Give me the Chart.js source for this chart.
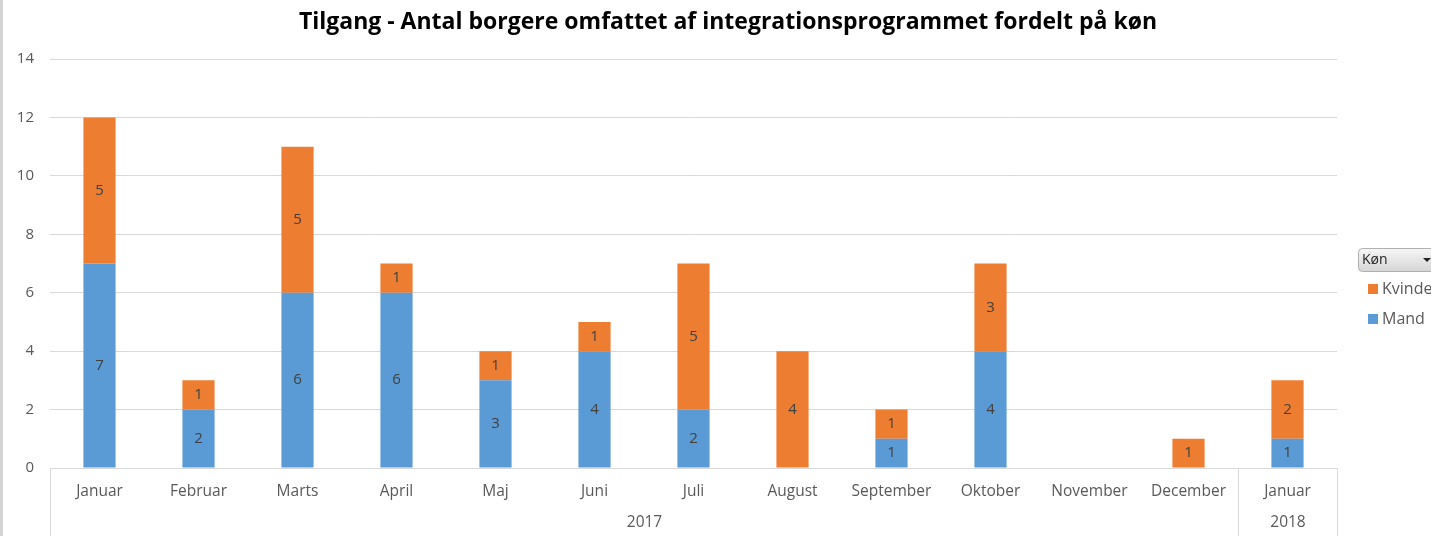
<!DOCTYPE html>
<html>
<head>
<meta charset="utf-8">
<script src="https://cdn.jsdelivr.net/npm/chart.js@4"></script>
<style>
  html, body { margin: 0; padding: 0; background: #fff; }
  #wrap { width: 1431px; height: 536px; position: relative; }
</style>
</head>
<body>
<div id="wrap"><canvas id="chart"></canvas></div>
<script>
const months = ['Januar', 'Februar', 'Marts', 'April', 'Maj', 'Juni', 'Juli', 'August', 'September', 'Oktober', 'November', 'December', 'Januar'];
const years = ['2017', '2018'];
const yearSpans = [12, 1];
const mand = [7, 2, 6, 6, 3, 4, 2, null, 1, 4, null, null, 1];
const kvinde = [5, 1, 5, 1, 1, 1, 5, 4, 1, 3, null, 1, 2];
const yTicks = [0, 2, 4, 6, 8, 10, 12, 14];
const title = 'Tilgang - Antal borgere omfattet af integrationsprogrammet fordelt på køn';

const FONT = "'Open Sans', sans-serif";
const GRID = '#d9d9d9';
const TEXT = '#595959';

// ─── custom drawing: title, value labels, year row, legend ───────────
const overlay = {
  id: 'overlay',
  afterDatasetsDraw(chart) {
    const ctx = chart.ctx;
    ctx.save();
    ctx.font = '15px ' + FONT;
    ctx.fillStyle = '#404040';
    ctx.textAlign = 'center';
    ctx.textBaseline = 'middle';
    chart.data.datasets.forEach((ds, i) => {
      chart.getDatasetMeta(i).data.forEach((bar, j) => {
        const v = ds.data[j];
        if (!v) return;
        ctx.fillText(String(v), bar.x, (bar.y + bar.base) / 2);
      });
    });
    ctx.restore();
  },
  afterDraw(chart) {
    const ctx = chart.ctx;
    const x = chart.scales.x;
    const area = chart.chartArea;
    const step = x.width / months.length;
    ctx.save();

    // title (centred on the whole picture, not the plot)
    ctx.fillStyle = '#000';
    ctx.font = 'bold 23px ' + FONT;
    ctx.textAlign = 'center';
    ctx.textBaseline = 'middle';
    ctx.fillText(title, 728, 22);

    // left frame line
    ctx.fillStyle = '#d4d4d4';
    ctx.fillRect(0, 0, 3, chart.height);

    // year row + separators
    ctx.strokeStyle = GRID;
    ctx.lineWidth = 1;
    ctx.font = '15.5px ' + FONT;
    ctx.fillStyle = TEXT;
    let start = 0;
    const edge = i => Math.round(x.getPixelForValue(i) - step / 2) + 0.5;
    ctx.beginPath();
    ctx.moveTo(edge(0), area.bottom);
    ctx.lineTo(edge(0), chart.height);
    ctx.stroke();
    years.forEach((y, k) => {
      const end = start + yearSpans[k];
      const l = edge(start), r = edge(end);
      ctx.beginPath();
      ctx.moveTo(r, area.bottom);
      ctx.lineTo(r, chart.height);
      ctx.stroke();
      ctx.fillText(y, (l + r) / 2, 523);
      start = end;
    });

    // legend with "Køn" filter button
    const bx = 1358, by = 248;
    const g = ctx.createLinearGradient(0, by, 0, by + 23);
    g.addColorStop(0, '#f7f7f7');
    g.addColorStop(1, '#d6d6d6');
    ctx.fillStyle = g;
    ctx.strokeStyle = '#b0b0b0';
    ctx.beginPath();
    ctx.roundRect(bx + 0.5, by + 0.5, 90, 23, 4);
    ctx.fill();
    ctx.stroke();
    ctx.fillStyle = '#222';
    ctx.font = '14px ' + FONT;
    ctx.textAlign = 'left';
    ctx.fillText('Køn', bx + 4, by + 12);
    ctx.beginPath();
    ctx.moveTo(1423, by + 10);
    ctx.lineTo(1431, by + 10);
    ctx.lineTo(1427, by + 14);
    ctx.closePath();
    ctx.fill();

    ctx.font = '16px ' + FONT;
    [1, 0].forEach((i, n) => {
      const ds = chart.data.datasets[i];
      const ly = 289 + n * 30;
      ctx.fillStyle = ds.backgroundColor;
      ctx.fillRect(1368, ly - 5, 10, 10);
      ctx.fillStyle = TEXT;
      ctx.fillText(ds.label, 1382, ly);
    });
    ctx.restore();
  }
};

new Chart(document.getElementById('chart'), {
  type: 'bar',
  data: {
    labels: months,
    datasets: [
      { label: 'Mand', data: mand, backgroundColor: '#5b9bd5' },
      { label: 'Kvinde', data: kvinde, backgroundColor: '#ed7d31' },
    ],
  },
  options: {
    responsive: true,
    maintainAspectRatio: false,
    animation: false,
    layout: { padding: { left: 0, right: 94, top: 59, bottom: 0 } },
    datasets: { bar: { barPercentage: 0.325, categoryPercentage: 1 } },
    plugins: {
      legend: { display: false },
      tooltip: { enabled: false },
      title: { display: false },
    },
    scales: {
      x: {
        stacked: true,
        grid: { display: false, drawTicks: false },
        border: { display: false },
        ticks: { color: TEXT, font: { family: FONT, size: 15.5 }, padding: 14, maxRotation: 0, autoSkip: false },
        afterFit(s) { s.height = 68; },
      },
      y: {
        stacked: true,
        min: 0,
        max: 14,
        afterBuildTicks(s) { s.ticks = yTicks.map(v => ({ value: v })); },
        grid: { color: GRID, drawTicks: false },
        border: { display: false },
        ticks: { color: TEXT, font: { family: FONT, size: 15 }, padding: 16 },
        afterFit(s) { s.width = 50; },
      },
    },
  },
  plugins: [overlay],
});
</script>
</body>
</html>
